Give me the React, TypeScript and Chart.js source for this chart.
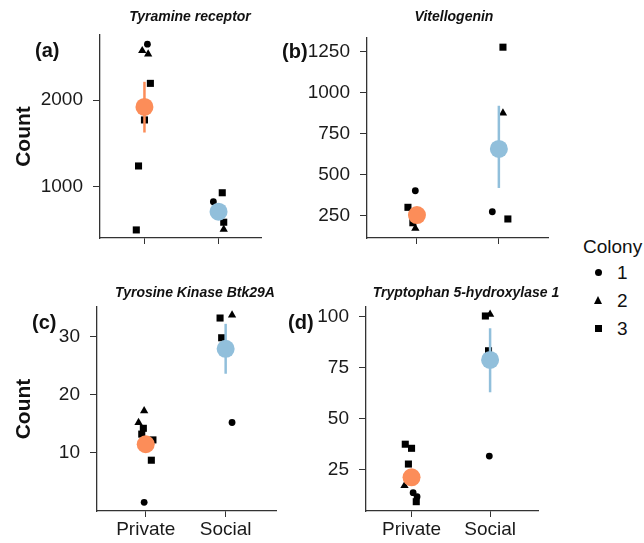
import React, { useEffect, useRef } from 'react';
import { Chart, registerables } from 'chart.js';

Chart.register(...registerables);

const CATEGORIES = ['Private', 'Social'];
const COLONIES = ['1', '2', '3'];
const PANEL_LABELS = ['(a)', '(b)', '(c)', '(d)'];
const GENE_TITLES = ['Tyramine receptor', 'Vitellogenin', 'Tyrosine Kinase Btk29A', 'Tryptophan 5-hydroxylase 1'];
const Y_TITLE = 'Count';
const LEGEND_TITLE = 'Colony';

// (a) Tyramine receptor
const A_GROUP = [0, 0, 0, 0, 0, 0, 0, 1, 1, 1, 1];
const A_COLONY = [1, 2, 2, 3, 3, 3, 3, 3, 1, 3, 2];
const A_JITTER = [0.04, -0.03, 0.05, 0.08, 0.0, -0.08, -0.11, 0.05, -0.07, 0.07, 0.07];
const A_VALUE = [2644, 2569, 2531, 2192, 1770, 1239, 501, 930, 827, 590, 509];
const A_MEAN = [1920, 712];
const A_LOW = [1625, 670];
const A_HIGH = [2210, 755];
const A_YTICKS = [1000, 2000];

// (b) Vitellogenin
const B_GROUP = [0, 0, 0, 0, 1, 1, 1, 1];
const B_COLONY = [1, 3, 3, 2, 3, 2, 1, 3];
const B_JITTER = [-0.02, -0.11, -0.05, -0.02, 0.05, 0.05, -0.08, 0.11];
const B_VALUE = [402, 301, 207, 173, 1277, 875, 274, 230];
const B_MEAN = [254, 657];
const B_LOW = [215, 419];
const B_HIGH = [295, 920];
const B_YTICKS = [250, 500, 750, 1000, 1250];

// (c) Tyrosine Kinase Btk29A
const C_GROUP = [0, 0, 0, 0, 0, 0, 0, 1, 1, 1, 1];
const C_COLONY = [2, 2, 3, 3, 3, 3, 1, 3, 2, 3, 1];
const C_JITTER = [-0.02, -0.09, -0.03, -0.05, 0.09, 0.07, -0.02, -0.07, 0.08, -0.05, 0.08];
const C_VALUE = [17.2, 15.2, 14.2, 13.2, 12.2, 8.7, 1.45, 33.2, 33.7, 29.8, 15.2];
const C_MEAN = [11.45, 27.9];
const C_LOW = [10.3, 23.6];
const C_HIGH = [12.8, 32.2];
const C_YTICKS = [10, 20, 30];

// (d) Tryptophan 5-hydroxylase 1
const D_GROUP = [0, 0, 0, 0, 0, 0, 0, 1, 1, 1, 1];
const D_COLONY = [3, 3, 3, 2, 1, 1, 3, 3, 2, 3, 1];
const D_JITTER = [-0.08, 0.0, -0.04, -0.09, 0.02, 0.07, 0.06, -0.06, 0.0, -0.02, -0.01];
const D_VALUE = [37.6, 35.6, 27.9, 17.3, 13.9, 11.9, 9.5, 100.3, 101.1, 83.3, 31.8];
const D_MEAN = [21.4, 78.8];
const D_LOW = [19.0, 63.0];
const D_HIGH = [24.0, 94.3];
const D_YTICKS = [25, 50, 75, 100];

const FONT = "'Liberation Sans', Arial, Helvetica, sans-serif";
const GROUP_COLORS = ['#FC8D59', '#91BFDB'];
const POINT_STYLES = ['circle', 'triangle', 'rect'];
const POINT_RADII = [3.4, 4.8, 5];

type Panel = {
  group: number[]; colony: number[]; jitter: number[]; value: number[];
  mean: number[]; low: number[]; high: number[]; yticks: number[];
  ymin: number; ymax: number; xmin: number; xmax: number;
  box: { left: number; top: number; width: number; height: number };
  padTop: number; padRight: number; yWidth: number; xHeight: number;
  showX: boolean; showYTitle: boolean;
  titlePos: [number, number]; labelPos: [number, number];
  idx: number;
};

const PANELS: Panel[] = [
  {
    group: A_GROUP, colony: A_COLONY, jitter: A_JITTER, value: A_VALUE,
    mean: A_MEAN, low: A_LOW, high: A_HIGH, yticks: A_YTICKS,
    ymin: 408, ymax: 2750, xmin: 0.4, xmax: 2.573,
    box: { left: 0, top: 0, width: 270, height: 262 },
    padTop: 35, padRight: 7, yWidth: 100, xHeight: 24,
    showX: false, showYTitle: true, titlePos: [190, 17], labelPos: [35, 51], idx: 0,
  },
  {
    group: B_GROUP, colony: B_COLONY, jitter: B_JITTER, value: B_VALUE,
    mean: B_MEAN, low: B_LOW, high: B_HIGH, yticks: B_YTICKS,
    ymin: 114, ymax: 1333, xmin: 0.39, xmax: 2.6,
    box: { left: 270, top: 0, width: 290, height: 262 },
    padTop: 38, padRight: 12, yWidth: 97, xHeight: 24,
    showX: false, showYTitle: false, titlePos: [184, 17], labelPos: [12, 52], idx: 1,
  },
  {
    group: C_GROUP, colony: C_COLONY, jitter: C_JITTER, value: C_VALUE,
    mean: C_MEAN, low: C_LOW, high: C_HIGH, yticks: C_YTICKS,
    ymin: -0.05, ymax: 35.1, xmin: 0.39, xmax: 2.63,
    box: { left: 0, top: 262, width: 285, height: 281 },
    padTop: 45, padRight: 3, yWidth: 97, xHeight: 32,
    showX: true, showYTitle: true, titlePos: [195, 31], labelPos: [32, 61], idx: 2,
  },
  {
    group: D_GROUP, colony: D_COLONY, jitter: D_JITTER, value: D_VALUE,
    mean: D_MEAN, low: D_LOW, high: D_HIGH, yticks: D_YTICKS,
    ymin: 4.94, ymax: 104.7, xmin: 0.42, xmax: 2.61,
    box: { left: 285, top: 262, width: 275, height: 281 },
    padTop: 45, padRight: 22, yWidth: 81, xHeight: 32,
    showX: true, showYTitle: false, titlePos: [181, 31], labelPos: [3, 61], idx: 3,
  },
];

function PanelChart({ p }: { p: Panel }) {
  const ref = useRef<HTMLCanvasElement | null>(null);
  useEffect(() => {
    if (!ref.current) return;
    const datasets: any[] = [];
    // black raw points per colony
    COLONIES.forEach((_, ci) => {
      const pts: { x: number; y: number }[] = [];
      p.value.forEach((v, i) => {
        if (p.colony[i] === ci + 1) pts.push({ x: p.group[i] + 1 + p.jitter[i], y: v });
      });
      datasets.push({
        type: 'scatter', data: pts, pointStyle: POINT_STYLES[ci], pointRadius: POINT_RADII[ci],
        backgroundColor: '#000', borderColor: '#000', borderWidth: 0, order: 3,
      });
    });
    // error bars
    CATEGORIES.forEach((_, g) => {
      datasets.push({
        type: 'scatter', showLine: true,
        data: [{ x: g + 1, y: p.low[g] }, { x: g + 1, y: p.high[g] }],
        borderColor: GROUP_COLORS[g], borderWidth: 2.5, pointRadius: 0, order: 2,
      });
    });
    // means
    CATEGORIES.forEach((_, g) => {
      datasets.push({
        type: 'scatter', data: [{ x: g + 1, y: p.mean[g] }],
        pointStyle: 'circle', pointRadius: 9, backgroundColor: GROUP_COLORS[g],
        borderColor: GROUP_COLORS[g], borderWidth: 0, order: 1,
      });
    });

    const textPlugin = {
      id: 'panelText',
      afterDraw(chart: any) {
        const ctx = chart.ctx;
        ctx.save();
        ctx.fillStyle = '#111';
        ctx.font = `italic bold 14px ${FONT}`;
        ctx.textAlign = 'center';
        ctx.textBaseline = 'middle';
        ctx.fillText(GENE_TITLES[p.idx], p.titlePos[0], p.titlePos[1]);
        ctx.font = `bold 20px ${FONT}`;
        ctx.textAlign = 'left';
        ctx.fillText(PANEL_LABELS[p.idx], p.labelPos[0], p.labelPos[1]);
        ctx.restore();
      },
    };

    const chart = new Chart(ref.current, {
      type: 'scatter',
      data: { datasets },
      plugins: [textPlugin],
      options: {
        animation: false,
        responsive: false,
        maintainAspectRatio: false,
        events: [],
        layout: { padding: { left: 0, top: p.padTop, right: p.padRight, bottom: 0 } },
        plugins: { legend: { display: false }, tooltip: { enabled: false }, title: { display: false } },
        scales: {
          x: {
            type: 'linear', min: p.xmin, max: p.xmax,
            afterFit: (s: any) => { s.height = p.xHeight; },
            afterBuildTicks: (s: any) => { s.ticks = CATEGORIES.map((_, i) => ({ value: i + 1 })); },
            ticks: {
              callback: (v: any) => (p.showX ? CATEGORIES[Number(v) - 1] : ''),
              font: { family: FONT, size: 19 }, color: '#1a1a1a', padding: 1, maxRotation: 0,
            },
            grid: { drawOnChartArea: false, drawTicks: true, tickLength: 6, color: '#333', lineWidth: 1 },
            border: { display: true, color: '#333', width: 1.3 },
          },
          y: {
            type: 'linear', min: p.ymin, max: p.ymax,
            afterFit: (s: any) => { s.width = p.yWidth; },
            afterBuildTicks: (s: any) => { s.ticks = p.yticks.map((v) => ({ value: v })); },
            ticks: {
              callback: (v: any) => String(v),
              font: { family: FONT, size: 19 }, color: '#1a1a1a', padding: 10,
            },
            title: {
              display: p.showYTitle, text: Y_TITLE, color: '#111',
              font: { family: FONT, size: 21, weight: 'bold' }, padding: { top: 12, bottom: 0 },
            },
            grid: { drawOnChartArea: false, drawTicks: true, tickLength: 7, color: '#333', lineWidth: 1 },
            border: { display: true, color: '#333', width: 1.3 },
          },
        },
      } as any,
    });
    return () => chart.destroy();
  }, [p]);
  return (
    <canvas
      ref={ref}
      width={p.box.width}
      height={p.box.height}
      style={{ position: 'absolute', left: p.box.left, top: p.box.top, width: p.box.width, height: p.box.height }}
    />
  );
}

function LegendSymbol({ ci }: { ci: number }) {
  if (ci === 0) return <div style={{ width: 7, height: 7, borderRadius: '50%', background: '#000' }} />;
  if (ci === 1)
    return (
      <div style={{ width: 0, height: 0, borderLeft: '4.5px solid transparent', borderRight: '4.5px solid transparent', borderBottom: '8px solid #000' }} />
    );
  return <div style={{ width: 7, height: 7, background: '#000' }} />;
}

export default function App() {
  return (
    <div style={{ position: 'absolute', left: 0, top: 0, width: 644, height: 543, background: '#fff', overflow: 'hidden', fontFamily: FONT }}>
      {PANELS.map((p) => (
        <PanelChart key={p.idx} p={p} />
      ))}
      <div style={{ position: 'absolute', left: 583, top: 235, fontSize: 19, lineHeight: '24px', color: '#111' }}>{LEGEND_TITLE}</div>
      {COLONIES.map((c, ci) => (
        <React.Fragment key={c}>
          <div style={{ position: 'absolute', left: 593, top: 262 + ci * 28, width: 10, height: 20, display: 'flex', alignItems: 'center', justifyContent: 'center' }}>
            <LegendSymbol ci={ci} />
          </div>
          <div style={{ position: 'absolute', left: 617, top: 261 + ci * 28, fontSize: 19, lineHeight: '24px', color: '#111' }}>{c}</div>
        </React.Fragment>
      ))}
    </div>
  );
}
